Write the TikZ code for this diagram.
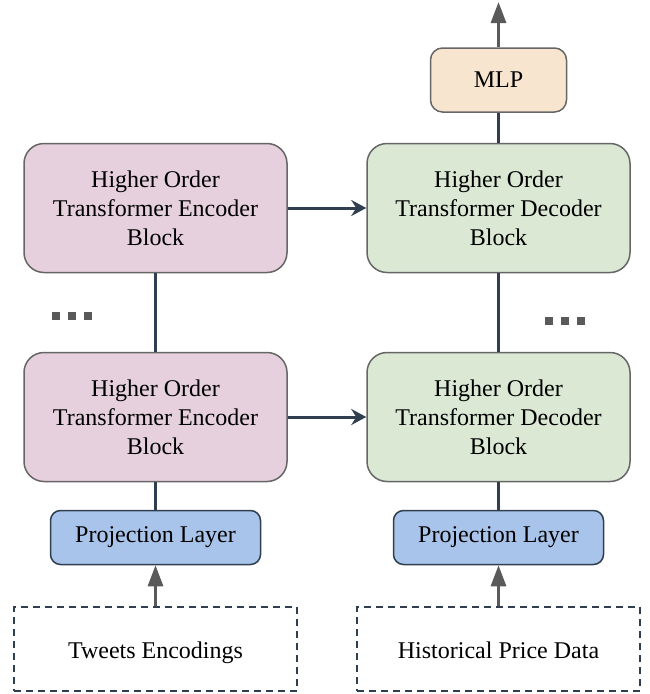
\documentclass[tikz,border=0pt]{standalone}
\usepackage{fontspec}
\setmainfont{Liberation Serif}
\usetikzlibrary{arrows.meta}
\definecolor{encfill}{HTML}{E6D0DE}
\definecolor{decfill}{HTML}{DAE8D4}
\definecolor{projfill}{HTML}{A9C4EB}
\definecolor{mlpfill}{HTML}{F8E5D0}
\definecolor{bordergray}{HTML}{666666}
\definecolor{slate}{HTML}{2F3F4F}
\definecolor{arrowgray}{HTML}{5A5A5A}
\tikzset{
  blockbox/.style={draw=bordergray, line width=1.5pt, rounded corners=20pt, minimum width=263pt, minimum height=129pt, align=center, inner sep=0pt, font=\fontsize{24}{29}\selectfont},
  projbox/.style={draw=slate, fill=projfill, line width=1.5pt, rounded corners=10pt, minimum width=210pt, minimum height=54pt, inner sep=0pt, font=\fontsize{24}{29}\selectfont},
  mlpbox/.style={draw=bordergray, fill=mlpfill, line width=1.5pt, rounded corners=12pt, minimum width=136pt, minimum height=64pt, inner sep=0pt, font=\fontsize{24}{29}\selectfont},
  inbox/.style={draw=slate, dashed, dash pattern=on 7pt off 5pt, line width=1.3pt, minimum width=283pt, minimum height=84pt, inner sep=0pt, text height=18pt, text depth=0pt, font=\fontsize{24}{29}\selectfont},
  link/.style={draw=slate, line width=3pt},
  slatearrow/.style={draw=slate, line width=3pt, -{Stealth[length=15pt,width=16pt,inset=5pt]}},
  grayarrow/.style={draw=arrowgray, line width=3pt, -{Triangle[length=21pt,width=15pt]}},
  dot/.style={fill=arrowgray}
}
\begin{document}
\begin{tikzpicture}[x=1pt,y=-1pt]
\useasboundingbox (0,0) rectangle (649,694);
% nodes
\node[blockbox, fill=encfill] (enc2) at (155.5,208) {Higher Order\\Transformer Encoder\\Block};
\node[blockbox, fill=decfill] (dec2) at (498.5,208) {Higher Order\\Transformer Decoder\\Block};
\node[blockbox, fill=encfill] (enc1) at (155.5,417) {Higher Order\\Transformer Encoder\\Block};
\node[blockbox, fill=decfill] (dec1) at (498.5,417) {Higher Order\\Transformer Decoder\\Block};
\node[projbox] (projL) at (155.5,537.5) {Projection Layer};
\node[projbox] (projR) at (498.5,537.5) {Projection Layer};
\node[inbox] (inL) at (155.5,649) {Tweets Encodings};
\node[inbox] (inR) at (498.5,649) {Historical Price Data};
\node[mlpbox] (mlp) at (498.5,80) {MLP};
\coordinate (out) at (498.5,2);
% connectors
\draw[link] (enc2.south) -- (enc1.north);
\draw[link] (dec2.south) -- (dec1.north);
\draw[link] (projL.north) -- (enc1.south);
\draw[link] (projR.north) -- (dec1.south);
\draw[link] (dec2.north) -- (mlp.south);
\draw[slatearrow] (enc2.east) -- (dec2.west);
\draw[slatearrow] (enc1.east) -- (dec1.west);
\draw[grayarrow] (inL.north) -- (projL.south);
\draw[grayarrow] (inR.north) -- (projR.south);
\draw[grayarrow] (mlp.north) -- (out);
% ellipsis dots
\foreach \x in {52,68,84} \fill[dot] (\x,312) rectangle ++(8,8);
\foreach \x in {545,561,577} \fill[dot] (\x,317) rectangle ++(8,8);
\end{tikzpicture}
\end{document}
